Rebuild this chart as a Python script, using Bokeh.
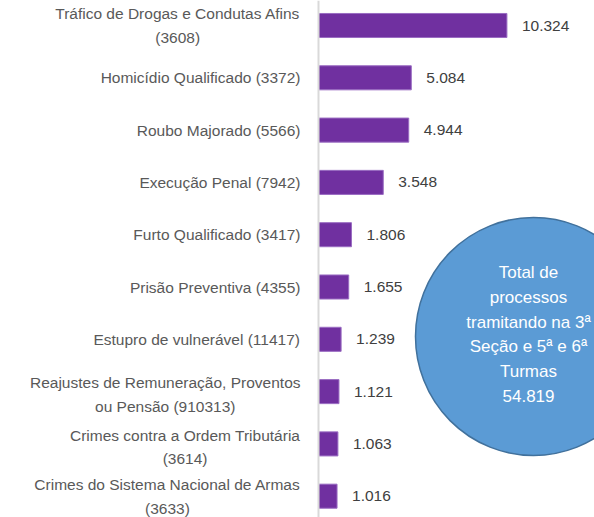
from bokeh.plotting import figure
from bokeh.models import ColumnDataSource, Range1d, Span
from bokeh.core.properties import value
from bokeh.embed import file_html
from bokeh.resources import INLINE

categories = [
    "Tráfico de Drogas e Condutas Afins\n(3608)",
    "Homicídio Qualificado (3372)",
    "Roubo Majorado (5566)",
    "Execução Penal (7942)",
    "Furto Qualificado (3417)",
    "Prisão Preventiva (4355)",
    "Estupro de vulnerável (11417)",
    "Reajustes de Remuneração, Proventos\nou Pensão (910313)",
    "Crimes contra a Ordem Tributária\n(3614)",
    "Crimes do Sistema Nacional de Armas\n(3633)",
]
values = [10324, 5084, 4944, 3548, 1806, 1655, 1239, 1121, 1063, 1016]
total_text = "Total de\nprocessos\ntramitando na 3ª\nSeção e 5ª e 6ª\nTurmas\n54.819"

W, H = 594, 517
X0_PX = 318          # frame pixel of value 0
X_SCALE = 0.01825    # px per unit
Y0_PX = 25           # frame pixel of first category
Y_STEP = 52.3        # px per category
FONT = 15.5

def px_to_x(px):
    return (px - X0_PX) / X_SCALE

def px_to_y(py):
    return (py - Y0_PX) / Y_STEP

# approximate Arial advance widths (em)
def text_w(s, size):
    t = {'i': .222, 'l': .222, 'í': .278, 'j': .222, 'I': .278, 'f': .278, 't': .278,
         ' ': .278, '.': .278, ',': .278, 'r': .333, '(': .333, ')': .333,
         'c': .5, 's': .5, 'k': .5, 'v': .5, 'x': .5, 'y': .5, 'z': .5, 'ç': .5,
         'm': .833, 'w': .722, 'A': .667, 'B': .667, 'E': .667, 'K': .667, 'P': .667,
         'S': .667, 'V': .667, 'X': .667, 'Y': .667, 'C': .722, 'D': .722, 'H': .722,
         'N': .722, 'R': .722, 'U': .722, 'G': .778, 'O': .778, 'Q': .778, 'F': .611,
         'T': .611, 'Z': .611, 'M': .833, 'L': .556, 'J': .5, 'ª': .37}
    return sum(t.get(ch, .556) for ch in s) * size

idx = list(range(len(categories)))
n = len(categories)
label_offsets = []
y_offsets = []
for i, c in enumerate(categories):
    lines = c.split("\n")
    w = max(text_w(l, FONT) for l in lines)
    label_offsets.append(-18 - w / 2)
    y_offsets.append(3 if (len(lines) > 1 and 0 < i < n - 1) else 0)

src = ColumnDataSource(dict(
    y=idx, v=values, cat=categories,
    lab=[f"{v:,}".replace(",", ".") for v in values],
    zero=[0] * len(values), xo=label_offsets, yo=y_offsets,
))

p = figure(width=W, height=H, output_backend="svg", toolbar_location=None,
           x_range=Range1d(px_to_x(0), px_to_x(W)),
           y_range=Range1d(px_to_y(H), px_to_y(0)),
           x_axis_type=None, y_axis_type=None, min_border=0)
p.outline_line_color = None
p.xgrid.visible = False
p.ygrid.visible = False
p.background_fill_color = "white"

p.add_layout(Span(location=0, dimension="height", line_color="#D9D9D9", line_width=2))

p.hbar(y="y", left=0, right="v", height=0.46, source=src,
       fill_color="#7030A0", line_color="#9A6CC2", line_width=1)

p.text(x="v", y="y", text="lab", source=src, x_offset=15,
       text_align="left", text_baseline="middle",
       text_font=value("Liberation Sans"), text_font_size=f"{FONT}px",
       text_color="#404040")

p.text(x="zero", y="y", text="cat", source=src, x_offset="xo", y_offset="yo",
       text_align="center", text_baseline="middle", text_line_height=1.4,
       text_font=value("Liberation Sans"), text_font_size=f"{FONT}px",
       text_color="#595959")

p.ellipse(x=px_to_x(533), y=px_to_y(336), width=236, height=238,
          width_units="screen", height_units="screen",
          fill_color="#5B9BD5", line_color="#41719C", line_width=1.5)

p.text(x=[px_to_x(528)], y=[px_to_y(334)], text=[total_text],
       text_align="center", text_baseline="middle", text_line_height=1.3,
       text_font=value("Liberation Sans"), text_font_size="17px",
       text_color="white")

open("out.html", "w").write(file_html(p, INLINE))
